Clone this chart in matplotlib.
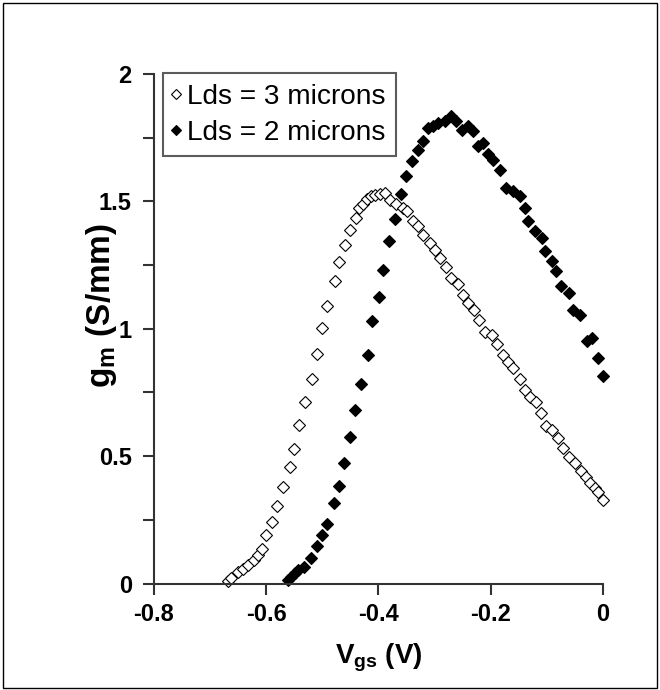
import matplotlib
matplotlib.use("Agg")
import matplotlib.pyplot as plt
from matplotlib.ticker import MultipleLocator
from matplotlib.patches import Rectangle

plt.rcParams['font.family'] = ['Liberation Sans', 'DejaVu Sans']
plt.rcParams['mathtext.fontset'] = 'custom'
plt.rcParams['mathtext.rm'] = 'Liberation Sans:bold'
plt.rcParams['mathtext.it'] = 'Liberation Sans:bold'
plt.rcParams['mathtext.bf'] = 'Liberation Sans:bold'
plt.rcParams['mathtext.default'] = 'rm'

# Lds = 3 microns (open diamonds)
vgs_3 = [-0.669, -0.662, -0.651, -0.641, -0.632, -0.622, -0.614, -0.608, -0.601,
         -0.589, -0.580, -0.571, -0.558, -0.551, -0.541, -0.531, -0.519, -0.509,
         -0.500, -0.491, -0.478, -0.470, -0.460, -0.450, -0.440, -0.434, -0.427,
         -0.421, -0.414, -0.406, -0.398, -0.389,
         -0.380, -0.369, -0.357, -0.349, -0.338, -0.329, -0.320, -0.308, -0.299,
         -0.291, -0.279, -0.271, -0.259, -0.249, -0.240, -0.229, -0.221, -0.210,
         -0.198, -0.189, -0.179, -0.169, -0.160, -0.148, -0.139, -0.130, -0.119,
         -0.111, -0.102, -0.091, -0.081, -0.072, -0.060, -0.050, -0.039, -0.030,
         -0.023, -0.014, -0.008, 0.000]
gm_3 = [0.010, 0.023, 0.046, 0.056, 0.073, 0.092, 0.112, 0.134, 0.190,
        0.243, 0.305, 0.377, 0.457, 0.528, 0.623, 0.711, 0.803, 0.902,
        1.003, 1.090, 1.186, 1.261, 1.330, 1.386, 1.435, 1.474, 1.491,
        1.510, 1.520, 1.523, 1.527, 1.533,
        1.507, 1.491, 1.474, 1.461, 1.422, 1.402, 1.369, 1.337, 1.310,
        1.278, 1.242, 1.199, 1.177, 1.134, 1.101, 1.075, 1.035, 0.989,
        0.974, 0.941, 0.898, 0.868, 0.846, 0.804, 0.758, 0.734, 0.711,
        0.669, 0.619, 0.603, 0.571, 0.531, 0.498, 0.472, 0.443, 0.420,
        0.394, 0.374, 0.361, 0.328]

# Lds = 2 microns (filled diamonds)
vgs_2 = [-0.561, -0.555, -0.549, -0.543, -0.532, -0.521, -0.509, -0.500, -0.491,
         -0.479, -0.470, -0.461, -0.450, -0.442, -0.431, -0.419, -0.411, -0.399,
         -0.392, -0.381, -0.370, -0.360, -0.351, -0.341, -0.330, -0.320,
         -0.311, -0.302, -0.294, -0.282, -0.271, -0.262, -0.252, -0.240, -0.231,
         -0.222, -0.213, -0.204, -0.196, -0.184, -0.172, -0.160, -0.148, -0.139,
         -0.133, -0.121, -0.109, -0.104, -0.091, -0.083, -0.074, -0.060, -0.053,
         -0.041, -0.029, -0.020, -0.008, 0.000]
gm_2 = [0.014, 0.027, 0.040, 0.053, 0.066, 0.099, 0.147, 0.191, 0.233,
        0.315, 0.384, 0.475, 0.574, 0.682, 0.784, 0.898, 1.029, 1.123,
        1.229, 1.343, 1.432, 1.529, 1.601, 1.660, 1.703, 1.736,
        1.788, 1.795, 1.808, 1.815, 1.834, 1.815, 1.782, 1.795, 1.775,
        1.716, 1.730, 1.684, 1.664, 1.625, 1.553, 1.540, 1.520, 1.474,
        1.422, 1.382, 1.356, 1.304, 1.264, 1.225, 1.166, 1.140, 1.075,
        1.055, 0.950, 0.963, 0.885, 0.815]

labels = ["Lds = 3 microns", "Lds = 2 microns"]
x_ticks = [-0.8, -0.6, -0.4, -0.2, 0]
x_ticklabels = ["-0.8", "-0.6", "-0.4", "-0.2", "0"]
y_ticks = [0, 0.5, 1, 1.5, 2]
y_ticklabels = ["0", "0.5", "1", "1.5", "2"]

fig = plt.figure(figsize=(6.6, 6.9), dpi=100)
fig.patches.append(Rectangle((0.004, 0.003), 0.991, 0.993, transform=fig.transFigure,
                             fill=False, edgecolor='black', linewidth=1.0))
ax = fig.add_axes([0.2333, 0.1543, 0.6803, 0.7385])

ax.plot(vgs_3, gm_3, linestyle='none', marker='D', markersize=5.8,
        markerfacecolor='white', markeredgecolor='black', markeredgewidth=0.8,
        clip_on=False, label=labels[0])
ax.plot(vgs_2, gm_2, linestyle='none', marker='D', markersize=5.8,
        markerfacecolor='black', markeredgecolor='black', markeredgewidth=0.8,
        clip_on=False, label=labels[1])

ax.set_xlim(-0.8, 0)
ax.set_ylim(0, 2)
ax.set_xticks(x_ticks)
ax.set_xticklabels(x_ticklabels)
ax.set_yticks(y_ticks)
ax.set_yticklabels(y_ticklabels)
ax.yaxis.set_minor_locator(MultipleLocator(0.25))

for s in ['top', 'right']:
    ax.spines[s].set_visible(False)
for s in ['left', 'bottom']:
    ax.spines[s].set_linewidth(1.5)
    ax.spines[s].set_color('#333333')

ax.tick_params(axis='both', which='both', direction='out', length=8, width=1.5,
               color='#333333', labelsize=17)
ax.tick_params(axis='x', pad=6)
ax.tick_params(axis='y', pad=8)
for lab in ax.get_xticklabels() + ax.get_yticklabels():
    lab.set_fontweight('bold')

ax.set_xlabel(r"V$_{\rm gs}$ (V)", fontsize=20, fontweight='bold', labelpad=11)
ax.set_ylabel(r"g$_{\rm m}$ (S/mm)", fontsize=24, fontweight='bold')
ax.yaxis.set_label_coords(-0.116, 0.545)
ax.yaxis.label.set_verticalalignment('center')

leg = ax.legend(loc='upper left', bbox_to_anchor=(0.02, 1.002), borderaxespad=0,
                fontsize=20.2, frameon=True, fancybox=False, handlelength=0.15,
                handletextpad=0.32, labelspacing=0.36, borderpad=0.38,
                markerscale=0.85)
leg.get_frame().set_edgecolor('#333333')
leg.get_frame().set_linewidth(1.5)

fig.savefig("out.png", dpi=100)
